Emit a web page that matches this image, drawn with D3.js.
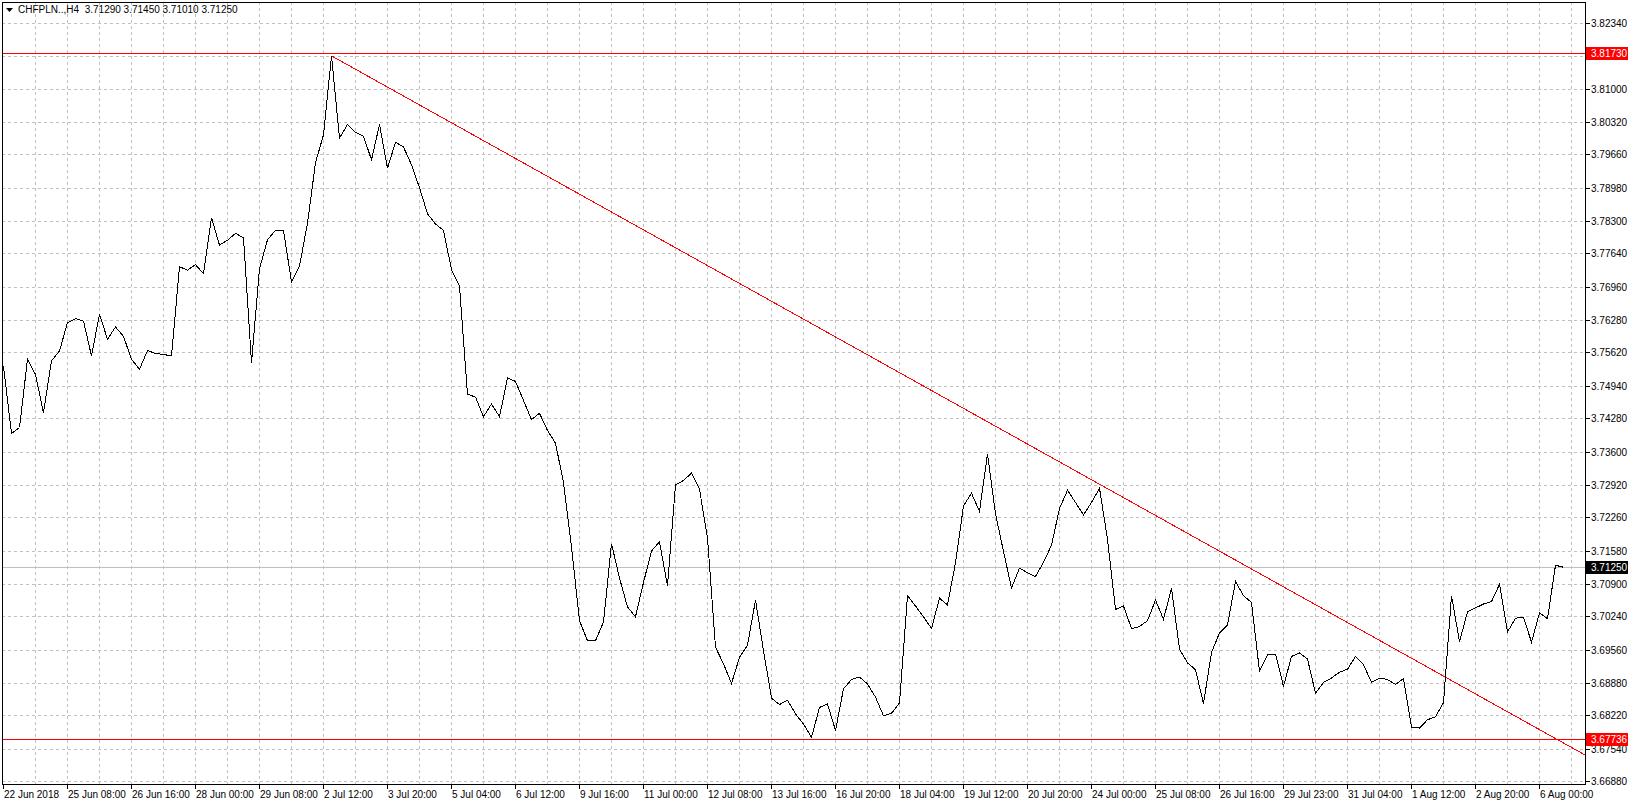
<!DOCTYPE html>
<html><head><meta charset="utf-8">
<script src="https://cdn.jsdelivr.net/npm/d3@7"></script>
<style>
html,body{margin:0;padding:0;background:#fff;}
svg{display:block;}
text{font-family:"Liberation Sans",Arial,sans-serif;font-size:10px;fill:#000;}
</style></head><body>
<svg id="chart" width="1628" height="805"></svg>
<script>
// ---------------- data ----------------
const symbolTitle = "CHFPLN..,H4";
const ohlcValues = ["3.71290", "3.71450", "3.71010", "3.71250"];

const closes = [
  3.7535, 3.7398, 3.7410, 3.7549, 3.7518, 3.7440, 3.7546, 3.7566, 3.7624, 3.7632,
  3.7627, 3.7556, 3.7641, 3.7590, 3.7615, 3.7596, 3.7549, 3.7529, 3.7567, 3.7561,
  3.7559, 3.7556, 3.7738, 3.7731, 3.7742, 3.7724, 3.7838, 3.7782, 3.7792, 3.7806,
  3.7797, 3.7542, 3.7734, 3.7793, 3.7812, 3.7812, 3.7707, 3.7739, 3.7827, 3.7950,
  3.8007, 3.8168, 3.8000, 3.8028, 3.8012, 3.8004, 3.7956, 3.8028, 3.7939, 3.7992,
  3.7982, 3.7946, 3.7899, 3.7846, 3.7825, 3.7812, 3.7732, 3.7698, 3.7478, 3.7472,
  3.7432, 3.7458, 3.7432, 3.7511, 3.7504, 3.7465, 3.7426, 3.7439, 3.7404, 3.7378,
  3.7298, 3.7166, 3.7016, 3.6975, 3.6975, 3.7013, 3.7173, 3.7103, 3.7044, 3.7024,
  3.7094, 3.7158, 3.7177, 3.7087, 3.7293, 3.7302, 3.7317, 3.7284, 3.7185, 3.6962,
  3.6928, 3.6888, 3.6941, 3.6966, 3.7058, 3.6955, 3.6858, 3.6845, 3.6854, 3.6826,
  3.6805, 3.6778, 3.6839, 3.6846, 3.6792, 3.6877, 3.6896, 3.6901, 3.6887, 3.6860,
  3.6822, 3.6827, 3.6848, 3.7067, 3.7046, 3.7024, 3.7000, 3.7062, 3.7048, 3.7134,
  3.7250, 3.7276, 3.7239, 3.7356, 3.7234, 3.7157, 3.7083, 3.7123, 3.7114, 3.7106,
  3.7135, 3.7170, 3.7245, 3.7282, 3.7257, 3.7232, 3.7257, 3.7286, 3.7182, 3.7039,
  3.7046, 3.7000, 3.7004, 3.7016, 3.7058, 3.7019, 3.7082, 3.6958, 3.6930, 3.6916,
  3.6847, 3.6951, 3.6991, 3.7007, 3.7096, 3.7067, 3.7053, 3.6913, 3.6946, 3.6948,
  3.6882, 3.6943, 3.6950, 3.6938, 3.6868, 3.6890, 3.6899, 3.6911, 3.6917, 3.6943,
  3.6926, 3.6890, 3.6899, 3.6896, 3.6886, 3.6898, 3.6799, 3.6797, 3.6814, 3.6820,
  3.6849, 3.7067, 3.6973, 3.7034, 3.7042, 3.7050, 3.7055, 3.7090, 3.6993, 3.7021,
  3.7023, 3.6972, 3.7032, 3.7020, 3.7129, 3.7125
];

const xTickLabels = [
  "22 Jun 2018", "25 Jun 08:00", "26 Jun 16:00", "28 Jun 00:00", "29 Jun 08:00",
  "2 Jul 12:00", "3 Jul 20:00", "5 Jul 04:00", "6 Jul 12:00", "9 Jul 16:00",
  "11 Jul 00:00", "12 Jul 08:00", "13 Jul 16:00", "16 Jul 20:00", "18 Jul 04:00",
  "19 Jul 12:00", "20 Jul 20:00", "24 Jul 00:00", "25 Jul 08:00", "26 Jul 16:00",
  "29 Jul 23:00", "31 Jul 04:00", "1 Aug 12:00", "2 Aug 20:00", "6 Aug 00:00"
];
const barsPerXLabel = 8;
const barsPerVGrid = 4;

const yTickLabels = [
  "3.82340", "3.81660", "3.81000", "3.80320", "3.79660", "3.78980", "3.78300", "3.77640",
  "3.76960", "3.76280", "3.75620", "3.74940", "3.74280", "3.73600", "3.72920", "3.72260",
  "3.71580", "3.70900", "3.70240", "3.69560", "3.68880", "3.68220", "3.67540", "3.66880"
];

const levelLines = [3.81730, 3.67736];
const levelLabels = ["3.81730", "3.67736"];
const currentPrice = 3.71250;
const currentPriceLabel = "3.71250";
const trendAnchors = [{bar: 41, price: 3.8168}, {bar: 190, price: 3.6812}];

// ---------------- layout ----------------
const W = 1628, H = 805;
const plot = {left: 2, right: 1585, top: 2, bottom: 784};
const svg = d3.select("#chart");
const crisp = v => Math.round(v) + 0.5;

const x = d3.scaleLinear().domain([0, 1]).range([3, 11]);          // 8 px per bar
const y = d3.scaleLinear()
  .domain([+yTickLabels[yTickLabels.length - 1], +yTickLabels[0]])
  .range([781, 23]);

svg.append("rect").attr("width", W).attr("height", H).attr("fill", "#fff");
svg.append("defs").append("clipPath").attr("id", "plotClip").append("rect")
  .attr("x", plot.left).attr("y", plot.top)
  .attr("width", plot.right - plot.left).attr("height", plot.bottom - plot.top);

// grid
const grid = svg.append("g").attr("stroke", "#c0c0c0").attr("stroke-dasharray", "3,3")
  .attr("shape-rendering", "crispEdges");
const vBars = d3.range(barsPerVGrid, 1000, barsPerVGrid).filter(b => x(b) < plot.right - 2);
grid.selectAll("line.v").data(vBars).join("line").attr("class", "v")
  .attr("x1", b => crisp(x(b))).attr("x2", b => crisp(x(b)))
  .attr("y1", plot.top).attr("y2", plot.bottom);
grid.selectAll("line.h").data(yTickLabels).join("line").attr("class", "h")
  .attr("x1", plot.left).attr("x2", plot.right)
  .attr("y1", d => crisp(y(+d))).attr("y2", d => crisp(y(+d)));

const plotG = svg.append("g").attr("clip-path", "url(#plotClip)");

// current price line
plotG.append("line")
  .attr("x1", plot.left).attr("x2", plot.right)
  .attr("y1", crisp(y(currentPrice))).attr("y2", crisp(y(currentPrice)))
  .attr("stroke", "#c0c0c0").attr("shape-rendering", "crispEdges");

// horizontal level lines
plotG.selectAll("line.level").data(levelLines).join("line").attr("class", "level")
  .attr("x1", plot.left).attr("x2", plot.right)
  .attr("y1", d => crisp(y(d))).attr("y2", d => crisp(y(d)))
  .attr("stroke", "#ff0000").attr("shape-rendering", "crispEdges");

// trend line (ray to right edge)
const slope = (trendAnchors[1].price - trendAnchors[0].price) / (trendAnchors[1].bar - trendAnchors[0].bar);
const endBar = x.invert(plot.right + 2);
const trendPts = [
  [trendAnchors[0].bar, trendAnchors[0].price],
  [endBar, trendAnchors[0].price + slope * (endBar - trendAnchors[0].bar)]
];
plotG.append("path")
  .attr("d", d3.line().x(d => x(d[0]) + 0.5).y(d => y(d[1]) + 0.5)(trendPts))
  .attr("fill", "none").attr("stroke", "#ff0000").attr("stroke-width", 1)
  .attr("shape-rendering", "crispEdges");

// price line
plotG.append("path")
  .attr("d", d3.line().x((d, i) => x(i) + 0.5).y(d => y(d) + 0.5)(closes))
  .attr("fill", "none").attr("stroke", "#000").attr("stroke-width", 1)
  .attr("shape-rendering", "crispEdges");

// frame
svg.append("rect")
  .attr("x", plot.left + 0.5).attr("y", plot.top + 0.5)
  .attr("width", plot.right - plot.left).attr("height", plot.bottom - plot.top)
  .attr("fill", "none").attr("stroke", "#000").attr("shape-rendering", "crispEdges");

// right axis
const yAxis = svg.append("g");
yAxis.selectAll("line").data(yTickLabels).join("line")
  .attr("x1", plot.right + 1).attr("x2", plot.right + 5)
  .attr("y1", d => crisp(y(+d))).attr("y2", d => crisp(y(+d)))
  .attr("stroke", "#000").attr("shape-rendering", "crispEdges");
yAxis.selectAll("text").data(yTickLabels).join("text")
  .attr("x", plot.right + 6).attr("y", d => Math.round(y(+d)) + 0.5)
  .attr("dy", "0.35em").text(d => d);

// bottom axis
const xAxis = svg.append("g");
const xBars = xTickLabels.map((d, i) => i * barsPerXLabel);
xAxis.selectAll("line").data(xBars).join("line")
  .attr("x1", b => crisp(x(b))).attr("x2", b => crisp(x(b)))
  .attr("y1", plot.bottom + 1).attr("y2", plot.bottom + 5)
  .attr("stroke", "#000").attr("shape-rendering", "crispEdges");
xAxis.selectAll("text").data(xTickLabels).join("text")
  .attr("x", (d, i) => x(xBars[i]) + 1).attr("y", 798).text(d => d);

// price tags
function tag(val, label, bg, fg) {
  const yy = Math.round(y(val));
  svg.append("rect").attr("x", plot.right + 1).attr("y", yy - 6)
    .attr("width", W - plot.right - 1).attr("height", 13).attr("fill", bg);
  svg.append("text").attr("x", plot.right + 6).attr("y", yy + 0.5).attr("dy", "0.35em")
    .style("fill", fg).text(label);
}
levelLines.forEach((v, i) => tag(v, levelLabels[i], "#ff0000", "#fff"));
tag(currentPrice, currentPriceLabel, "#000", "#fff");

// header
svg.append("path").attr("d", "M6,8 L13,8 L9.5,12 Z").attr("fill", "#000");
svg.append("text").attr("x", 18).attr("y", 13)
  .text(symbolTitle + "\u00a0\u00a0" + ohlcValues.join(" "));
</script>
</body></html>
